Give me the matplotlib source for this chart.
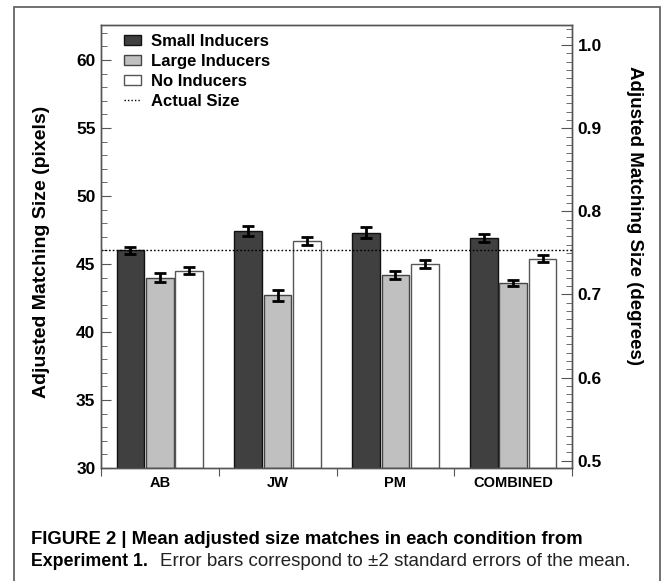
import numpy as np
import matplotlib
matplotlib.use('Agg')
import matplotlib.pyplot as plt
from matplotlib.lines import Line2D
from matplotlib.patches import Patch, Rectangle
from matplotlib.ticker import MultipleLocator, FormatStrFormatter

plt.rcParams['font.family'] = ['Liberation Sans', 'DejaVu Sans']

GROUPS = ['AB', 'JW', 'PM', 'COMBINED']
SERIES = ['Small Inducers', 'Large Inducers', 'No Inducers']
small = [46.0, 47.4, 47.3, 46.9]
large = [44.0, 42.7, 44.2, 43.6]
none_ = [44.5, 46.7, 45.0, 45.4]
small_err = [0.27, 0.36, 0.39, 0.27]
large_err = [0.31, 0.39, 0.31, 0.25]
none_err = [0.25, 0.29, 0.27, 0.25]
ACTUAL = 46.0
PX_TO_DEG = 0.01637

values = [small, large, none_]
errors = [small_err, large_err, none_err]
faces = ['#404040', '#c0c0c0', '#ffffff']
edges = ['#111111', '#454545', '#555555']

W, H = 669, 581
fig = plt.figure(figsize=(W / 100, H / 100), dpi=100)
ax = fig.add_axes([101 / W, 1 - 468 / H, (572 - 101) / W, (468 - 25) / H])

x = np.arange(len(GROUPS))
offsets = [-0.25, 0.0, 0.25]
for vals, errs, fc, ec, off, lab in zip(values, errors, faces, edges, offsets, SERIES):
    ax.bar(x + off, np.array(vals) - 30, width=0.235, bottom=30, color=fc,
           edgecolor=ec, linewidth=1.0, label=lab, zorder=2)
    ax.errorbar(x + off, vals, yerr=errs, fmt='none', ecolor='black',
                elinewidth=2, capsize=4, capthick=2, zorder=3)

ax.axhline(ACTUAL, color='black', linestyle=(0, (1.2, 1.5)), linewidth=1.0, zorder=4)

ax.set_xlim(-0.5, len(GROUPS) - 0.5)
ax.set_ylim(30, 62.57)

# group separators as major ticks, names on minor ticks
ax.set_xticks(np.arange(-0.5, len(GROUPS), 1.0))
ax.set_xticklabels([])
ax.set_xticks(x, minor=True)
ax.set_xticklabels(GROUPS, minor=True, fontsize=10.5, fontweight='bold')
ax.tick_params(axis='x', which='major', direction='out', length=6, color='#555555')
ax.tick_params(axis='x', which='minor', length=0, pad=6)

ax.yaxis.set_major_locator(MultipleLocator(5))
ax.yaxis.set_minor_locator(MultipleLocator(1))
ax.tick_params(axis='y', which='major', direction='in', length=7, color='#555555',
               labelsize=12.5, pad=4)
ax.tick_params(axis='y', which='minor', direction='in', length=4, color='#555555')
for t in ax.get_yticklabels():
    t.set_fontweight('bold')

ax2 = ax.twinx()
ax2.set_ylim(30 * PX_TO_DEG, 62.57 * PX_TO_DEG)
ax2.yaxis.set_major_locator(MultipleLocator(0.1))
ax2.yaxis.set_minor_locator(MultipleLocator(0.01))
ax2.yaxis.set_major_formatter(FormatStrFormatter('%.1f'))
ax2.tick_params(axis='y', which='major', direction='in', length=8, color='#555555',
                labelsize=12.5, pad=4)
ax2.tick_params(axis='y', which='minor', direction='in', length=4, color='#555555')
for t in ax2.get_yticklabels():
    t.set_fontweight('bold')

for a in (ax, ax2):
    for s in a.spines.values():
        s.set_color('#555555')
        s.set_linewidth(1.0)

fig.text(42 / W, 1 - 252 / H, 'Adjusted Matching Size (pixels)', rotation=90,
         ha='center', va='center', fontsize=14, fontweight='bold')
fig.text(635 / W, 1 - 215 / H, 'Adjusted Matching Size (degrees)', rotation=-90,
         ha='center', va='center', fontsize=13.5, fontweight='bold')

handles = [Patch(facecolor=fc, edgecolor=ec, linewidth=1.0) for fc, ec in zip(faces, edges)]
handles.append(Line2D([0], [0], color='black', linestyle=(0, (1, 1.5)), linewidth=1.0))
ax.legend(handles, SERIES + ['Actual Size'], loc='upper left',
          bbox_to_anchor=(0.035, 0.995), frameon=False,
          prop={'weight': 'bold', 'size': 12}, handlelength=1.0, handleheight=0.6,
          handletextpad=0.6, labelspacing=0.3, borderaxespad=0.0)

# caption
fig.text(31 / W, 1 - 540 / H,
         'FIGURE 2 | Mean adjusted size matches in each condition from',
         ha='left', va='center', fontsize=13.3, fontweight='bold')
t1 = fig.text(31 / W, 1 - 562 / H, 'Experiment 1.', ha='left', va='center',
              fontsize=12.8, fontweight='bold')
fig.canvas.draw()
bb = t1.get_window_extent(renderer=fig.canvas.get_renderer())
fig.text(bb.x1 / W + 12 / W, 1 - 562 / H,
         'Error bars correspond to \u00b12 standard errors of the mean.',
         ha='left', va='center', fontsize=13.5, color='#222222')

fig.add_artist(Rectangle((14 / W, -0.02), (660 - 14) / W, 1.02 - 7 / H,
                         transform=fig.transFigure, fill=False,
                         edgecolor='#666666', linewidth=1.3))

fig.savefig('out.png', dpi=100)
